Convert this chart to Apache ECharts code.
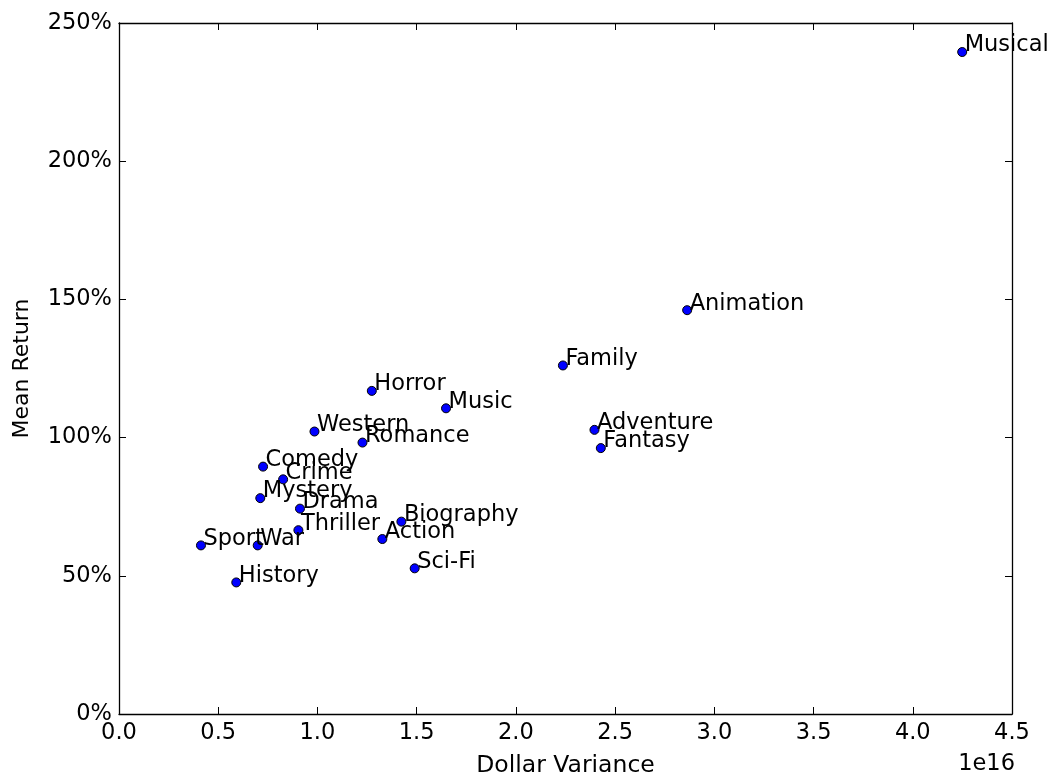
<!DOCTYPE html>
<html>
<head>
<meta charset="utf-8">
<script src="https://cdn.jsdelivr.net/npm/echarts@6/dist/echarts.min.js"></script>
<style>
html,body{margin:0;padding:0;background:#fff;}
#chart{width:1055px;height:783px;}
</style>
</head>
<body>
<div id="chart"></div>
<script>
// Genres, dollar variance (in units of 1e16) and mean return (%)
const genres = ["Musical","Animation","Family","Horror","Music","Adventure","Fantasy","Western","Romance","Comedy","Crime","Mystery","Drama","Thriller","Biography","Action","Sci-Fi","Sport","War","History"];
const dollarVariance = [4.249,2.863,2.237,1.274,1.648,2.396,2.428,0.985,1.227,0.726,0.827,0.712,0.912,0.904,1.423,1.327,1.490,0.413,0.699,0.591];
const meanReturn = [239.5,146.1,126.1,116.9,110.6,102.8,96.2,102.2,98.2,89.5,84.9,78.1,74.3,66.5,69.6,63.3,52.7,61.0,61.0,47.6];
const xTicks = [0,0.5,1,1.5,2,2.5,3,3.5,4,4.5];
const yTicks = [0,50,100,150,200,250];

const FONT = "DejaVu Sans";
const FS = 22.5;
const SYM = 9;
const chart = echarts.init(document.getElementById('chart'), null, {renderer:'canvas'});
const points = genres.map((g,i)=>({name:g, value:[dollarVariance[i], meanReturn[i]]}));

const axisCommon = {
  axisLine:{show:true, onZero:false, lineStyle:{color:'#000', width:1.3}},
  axisTick:{show:true, inside:true, length:7, lineStyle:{color:'#000', width:1}},
  splitLine:{show:false}
};

chart.setOption({
  animation:false,
  backgroundColor:'#fff',
  grid:{left:119, right:43, top:23, bottom:69, containLabel:false},
  xAxis:[
    Object.assign({type:'value', min:xTicks[0], max:xTicks[xTicks.length-1], interval:0.5, position:'bottom',
      name:'Dollar Variance', nameLocation:'middle', nameGap:40,
      nameTextStyle:{fontFamily:FONT, fontSize:23.5, color:'#000'},
      axisLabel:{fontFamily:FONT, fontSize:FS, color:'#000', margin:8, formatter:v=>v.toFixed(1)}}, axisCommon),
    Object.assign({type:'value', min:xTicks[0], max:xTicks[xTicks.length-1], interval:0.5, position:'top',
      axisLabel:{show:false}}, axisCommon)
  ],
  yAxis:[
    Object.assign({type:'value', min:yTicks[0], max:yTicks[yTicks.length-1], interval:50, position:'left',
      name:'Mean Return', nameLocation:'middle', nameGap:86, nameRotate:90,
      nameTextStyle:{fontFamily:FONT, fontSize:22, color:'#000'},
      axisLabel:{fontFamily:FONT, fontSize:FS, color:'#000', margin:7, formatter:v=>v+'%'}}, axisCommon),
    Object.assign({type:'value', min:yTicks[0], max:yTicks[yTicks.length-1], interval:50, position:'right',
      axisLabel:{show:false}}, axisCommon)
  ],
  graphic:[{type:'text', right:40, top:753, style:{text:'1e16', fontFamily:FONT, fontSize:FS, fill:'#000'}}],
  series:[{
    type:'scatter', xAxisIndex:0, yAxisIndex:0, data:points,
    symbol:'circle', symbolSize:SYM,
    itemStyle:{color:'#0000ff', borderColor:'#000', borderWidth:1, opacity:1},
    clip:false,
    label:{show:true, formatter:p=>p.name, position:[SYM/2+3,SYM/2-6], align:'left', verticalAlign:'middle',
      fontFamily:FONT, fontSize:FS, color:'#000'},
    labelLayout:{hideOverlap:false},
    emphasis:{disabled:true}
  }]
});
</script>
</body>
</html>
